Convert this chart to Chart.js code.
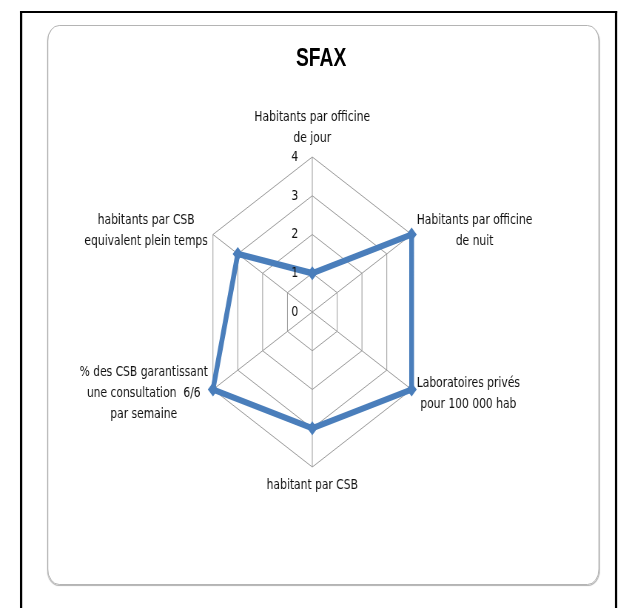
<!DOCTYPE html>
<html>
<head>
<meta charset="utf-8">
<script src="https://cdn.jsdelivr.net/npm/chart.js@4.4.0/dist/chart.umd.min.js"></script>
<style>
html,body{margin:0;padding:0;background:#fff;}
body{width:619px;height:608px;overflow:hidden;position:relative;}
#page{position:absolute;left:0;top:0;width:836px;height:608px;transform:scaleX(0.74);transform-origin:0 0;}
#frame{position:absolute;left:27px;top:11px;width:807px;height:640px;box-sizing:border-box;border-top:2px solid #000;border-left:3.4px solid #000;border-right:3px solid #000;}
#box{position:absolute;left:63.5px;top:25px;width:746px;height:560px;box-sizing:border-box;border:1px solid #a8a8a8;border-radius:16px;box-shadow:0 1px 1px rgba(0,0,0,0.3);}
#title{position:absolute;left:334px;top:44px;width:200px;text-align:center;font:bold 26px/27px "Liberation Sans",Arial,sans-serif;color:#000;}
#c{position:absolute;left:0;top:0;}
</style>
</head>
<body>
<div id="page">
<div id="frame"></div>
<div id="box"></div>
<div id="title">SFAX</div>
<canvas id="c" width="836" height="608"></canvas>
</div>
<script>
// axes, clockwise from the top
const axisLabels=[
["Habitants par officine","de jour"],
["Habitants par officine","de nuit"],
["Laboratoires privés","pour 100 000 hab"],
["habitant par CSB"],
["% des CSB garantissant","une consultation  6/6","par semaine"],
["habitants par CSB","equivalent plein temps"]
];
const sfax=[1,4,4,3,4,3];
const tickMin=0,tickMax=4,tickStep=1;

const textColor="#111";
const bleu="#4a7ebb";

// labels placed the way Excel does it (side labels centred on the vertex)
const excelLabels={
id:"excelLabels",
afterDraw(chart){
const s=chart.scales.r;
const ctx=chart.ctx;
ctx.save();
ctx.fillStyle=textColor;
ctx.font='14.5px "DejaVu Sans"';
ctx.textBaseline="middle";
ctx.textAlign="right";
s.ticks.forEach(t=>{
let d=s.getDistanceFromCenterForValue(t.value);
ctx.fillText(t.label,s.xCenter-19,s.yCenter-d);
});
ctx.textAlign="center";
const lh=21;
axisLabels.forEach((lines,i)=>{
let p=s.getPointPosition(i,s.drawingArea+8);
let w=Math.max(...lines.map(l=>ctx.measureText(l).width));
let h=lines.length*lh;
let cx=p.x,top;
if(Math.abs(p.x-s.xCenter)<1){
top=p.y<s.yCenter?p.y-h:p.y;
}else{
cx=p.x>s.xCenter?p.x+w/2:p.x-w/2;
top=p.y-h/2;
}
lines.forEach((l,k)=>ctx.fillText(l,cx,top+lh*(k+0.5)));
});
ctx.restore();
}
};

new Chart(document.getElementById("c"),{
type:"radar",
data:{labels:axisLabels,datasets:[{
label:"SFAX",
data:sfax,
borderColor:bleu,
backgroundColor:bleu,
borderWidth:6.5,
borderJoinStyle:"round",
fill:false,
tension:0,
pointStyle:"rectRot",
pointRadius:5.5,
pointBorderWidth:2,
pointBackgroundColor:bleu,
pointBorderColor:bleu
}]},
options:{
responsive:false,
animation:false,
layout:{padding:{left:267,right:259,top:157,bottom:141}},
plugins:{legend:{display:false},tooltip:{enabled:false}},
scales:{r:{
min:tickMin,max:tickMax,
ticks:{stepSize:tickStep,display:false,showLabelBackdrop:false},
pointLabels:{display:false},
grid:{color:"#999",lineWidth:1},
angleLines:{color:"#999",lineWidth:1}
}}
},
plugins:[excelLabels]
});
</script>
</body>
</html>
